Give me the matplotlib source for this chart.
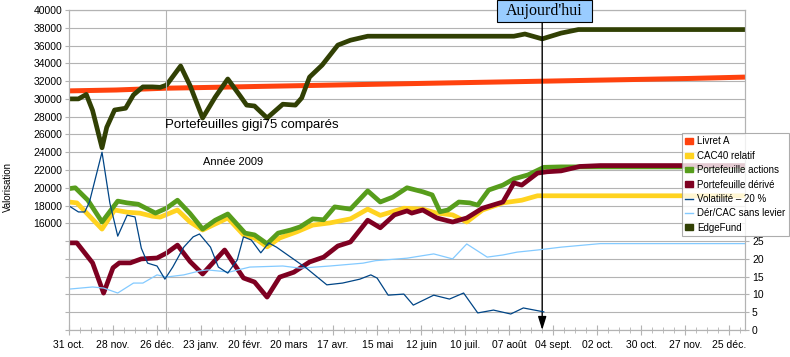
import matplotlib
matplotlib.use('Agg')
import matplotlib.pyplot as plt
import matplotlib.patches as mpatches
from matplotlib.lines import Line2D
import numpy as np

plt.rcParams['font.family'] = ['Liberation Sans', 'DejaVu Sans']

start = np.datetime64('2008-10-31')
today_day = 301
end_day = 430

def d(days):
    return start + np.array(days, dtype='timedelta64[D]')

# jours depuis le 31 oct. 2008 / valeurs lues
livret_days = [0, 30, 61, 92, 120, 151, 181, 212, 242, 273, 304, 334, 365, 395, 430]
livret_vals = [30900, 31000, 31200, 31300, 31400, 31500, 31600, 31700, 31800, 31900,
               32000, 32100, 32200, 32300, 32450]

cac_days = [0, 5, 21, 29, 37, 45, 53, 58, 69, 77, 85, 101, 111, 118, 126, 134, 145, 155,
            166, 179, 190, 198, 213, 225, 234, 244, 253, 263, 276, 288, 298, 313, 430]
cac_vals = [18400, 18300, 15350, 17500, 17250, 17150, 16800, 16700, 17500, 16150, 15250,
            16600, 14700, 14350, 13350, 14350, 15050, 15800, 16050, 16500, 17600, 16900,
            17700, 17600, 17150, 16950, 16150, 17500, 18300, 18600, 19100, 19100, 19100]

actions_days = [0, 4, 12, 21, 31, 37, 44, 55, 62, 69, 77, 85, 93, 101, 112, 118, 126, 133,
                141, 147, 155, 162, 169, 179, 190, 198, 206, 215, 225, 231, 236, 241, 248,
                255, 260, 267, 276, 283, 292, 302, 313, 430]
actions_vals = [19900, 20000, 18600, 16150, 18500, 18300, 18150, 17150, 17700, 18600, 17100,
                15350, 16350, 17050, 14900, 14700, 13700, 14900, 15250, 15600, 16500, 16400,
                17850, 17600, 19650, 18400, 18950, 20000, 19550, 19200, 17300, 17500, 18400,
                18300, 18050, 19750, 20300, 21000, 21450, 22300, 22350, 22350]

derive_days = [0, 5, 15, 22, 28, 32, 39, 46, 56, 62, 69, 77, 85, 99, 111, 118, 126, 134, 143,
               153, 162, 171, 179, 190, 198, 207, 215, 218, 225, 234, 244, 253, 263, 276,
               283, 288, 298, 304, 313, 325, 338, 430]
derive_vals = [13800, 13800, 11550, 8150, 11000, 11550, 11550, 12000, 12100, 12650, 13550,
               11700, 10300, 13000, 9850, 9400, 7700, 9950, 10500, 11650, 12200, 13450, 13900,
               16350, 15500, 16950, 17400, 17150, 17500, 16600, 16150, 16600, 17700, 18400,
               20550, 20300, 21650, 21800, 21900, 22400, 22500, 22500]

vol_days = [0, 6, 10, 13, 21, 26, 31, 37, 42, 46, 50, 56, 61, 66, 73, 79, 83, 90, 95, 101,
            107, 111, 116, 122, 127, 132, 141, 151, 164, 174, 185, 192, 196, 203, 213, 219,
            232, 242, 251, 260, 270, 281, 289, 302]
vol_vals = [34.9, 33.2, 33.2, 36, 50, 35.7, 26.4, 32.3, 31.8, 23, 18.8, 18, 14.3, 17.7, 23.3,
            26.2, 27, 23.3, 17.7, 16, 19.7, 26.2, 25.3, 21.7, 24.5, 23.3, 20.5, 17.4, 12.7,
            13.2, 14.3, 15.5, 14.6, 9.8, 10.1, 7, 9.8, 8.7, 10.4, 4.8, 5.6, 4.5, 6.2, 5.1]

dercac_days = [0, 15, 22, 31, 41, 47, 56, 62, 73, 83, 88, 102, 115, 136, 147, 166, 187, 195,
               215, 232, 244, 253, 266, 276, 285, 298, 313, 338, 430]
dercac_vals = [11.5, 12.1, 11.8, 10.4, 13.2, 13.2, 15.5, 14.9, 15.5, 16.6, 16.9, 16.3, 17.7,
               18, 17.4, 18, 18.8, 19.5, 20.2, 21.4, 20, 24.2, 20.5, 21.1, 21.9, 22.5, 23.3,
               24.3, 24.3]

edge_days = [0, 6, 11, 15, 21, 24, 29, 36, 41, 47, 53, 58, 62, 71, 77, 85, 93, 101, 109, 113,
             118, 126, 136, 144, 148, 153, 161, 171, 179, 190, 198, 283, 290, 301, 313, 324,
             430]
edge_vals = [30000, 30000, 30500, 28700, 24500, 26800, 28750, 28950, 30450, 31350, 31350,
             31300, 31550, 33700, 31500, 27850, 30200, 32240, 30300, 29300, 29200, 27850,
             29400, 29300, 30100, 32450, 33800, 36050, 36600, 37050, 37050, 37050, 37300,
             36750, 37400, 37800, 37800]

xlabels = ['31 oct.', '28 nov.', '26 déc.', '23 janv.', '20 févr.', '20 mars', '17 avr.',
           '15 mai', '12 juin', '10 juil.', '07 août', '04 sept.', '02 oct.', '30 oct.',
           '27 nov.', '25 déc.']

c_livret = '#ff420e'
c_cac = '#ffd320'
c_actions = '#579d1c'
c_derive = '#7e0021'
c_vol = '#004586'
c_dercac = '#83caff'
c_edge = '#314004'
grey = '#b3b3b3'

fig = plt.figure(figsize=(7.9, 3.57), dpi=100)
ax = fig.add_axes([69/790, 27/357, 676/790, 320/357])

ax.plot(d(livret_days), livret_vals, color=c_livret, lw=3.6, solid_capstyle='butt')
ax.plot(d(cac_days), cac_vals, color=c_cac, lw=3.4, solid_joinstyle='round')
ax.plot(d(actions_days), actions_vals, color=c_actions, lw=3.4, solid_joinstyle='round')
ax.plot(d(derive_days), derive_vals, color=c_derive, lw=3.4, solid_joinstyle='round')
ax.plot(d(edge_days), edge_vals, color=c_edge, lw=3.4, solid_joinstyle='round')

ax.set_xlim(d(0), d(end_day))
ax.set_ylim(4000, 40000)
yt = np.arange(4000, 40001, 2000)
ax.set_yticks(yt)
ax.set_yticklabels([str(v) if v >= 16000 else '' for v in yt], fontsize=7.5)
ax.yaxis.grid(True, color=grey, lw=0.8)
ax.axvline(np.datetime64('2009-01-01'), color=grey, lw=0.8)

ax.set_xticks(d(np.arange(len(xlabels)) * 28))
ax.set_xticklabels(xlabels, fontsize=7.5)
ax.set_xticks(d(np.arange(0, end_day, 7)), minor=True)
ax.tick_params(axis='x', which='major', direction='inout', length=7, color=grey, pad=4)
ax.tick_params(axis='x', which='minor', direction='inout', length=4, color=grey)
ax.tick_params(axis='y', length=3, color=grey, pad=2)
for s in ax.spines.values():
    s.set_color(grey)

ax2 = ax.twinx()
ax2.plot(d(dercac_days), dercac_vals, color=c_dercac, lw=0.9)
ax2.plot(d(vol_days), vol_vals, color=c_vol, lw=0.9)
ax2.set_ylim(0, 90)
ax2.set_yticks(np.arange(0, 26, 5))
ax2.tick_params(axis='y', labelsize=7.5, length=3, color=grey, pad=2)
for s in ax2.spines.values():
    s.set_color(grey)

# boite "Aujourd'hui" + fleche jusqu'a l'axe
box = mpatches.Rectangle((497/790, 1 - 22/357), 95/790, 22/357, transform=fig.transFigure,
                         fc='#99ccff', ec='black', lw=0.8, zorder=10)
fig.patches.append(box)
fig.text(544/790, 1 - 11/357, "Aujourd'hui", ha='center', va='center', fontsize=11.5,
         family=['Liberation Serif', 'DejaVu Serif'], zorder=11)
ax.annotate('', xy=(d(today_day), 4000), xytext=(d(today_day), 38650),
            arrowprops=dict(arrowstyle='-|>,head_length=0.8,head_width=0.25', color='black',
                            lw=1, mutation_scale=10, shrinkA=0, shrinkB=0),
            annotation_clip=False, zorder=10)

fig.text(165/790, 1 - 125/357, 'Portefeuilles gigi75 comparés', fontsize=9.5, va='center')
fig.text(203/790, 1 - 162/357, 'Année 2009', fontsize=8, va='center')
fig.text(8/790, 1 - 187/357, 'Valorisation', fontsize=7, rotation=90, ha='center', va='center')

handles = [mpatches.Patch(color=c_livret), mpatches.Patch(color=c_cac),
           mpatches.Patch(color=c_actions), mpatches.Patch(color=c_derive),
           Line2D([], [], color=c_vol, lw=1), Line2D([], [], color=c_dercac, lw=1),
           mpatches.Patch(color=c_edge)]
labels = ['Livret A', 'CAC40 relatif', 'Portefeuille actions', 'Portefeuille dérivé',
          'Volatilité – 20 %', 'Dér/CAC sans levier', 'EdgeFund']
leg = fig.legend(handles, labels, loc='upper left', bbox_to_anchor=(682/790, 1 - 133/357),
                 fontsize=7, frameon=True, fancybox=False, edgecolor='#999999',
                 handlelength=0.8, handleheight=0.5, handletextpad=0.4, borderpad=0.35,
                 labelspacing=0.45, borderaxespad=0)
leg.get_frame().set_linewidth(0.8)

fig.savefig('out.png', dpi=100)
